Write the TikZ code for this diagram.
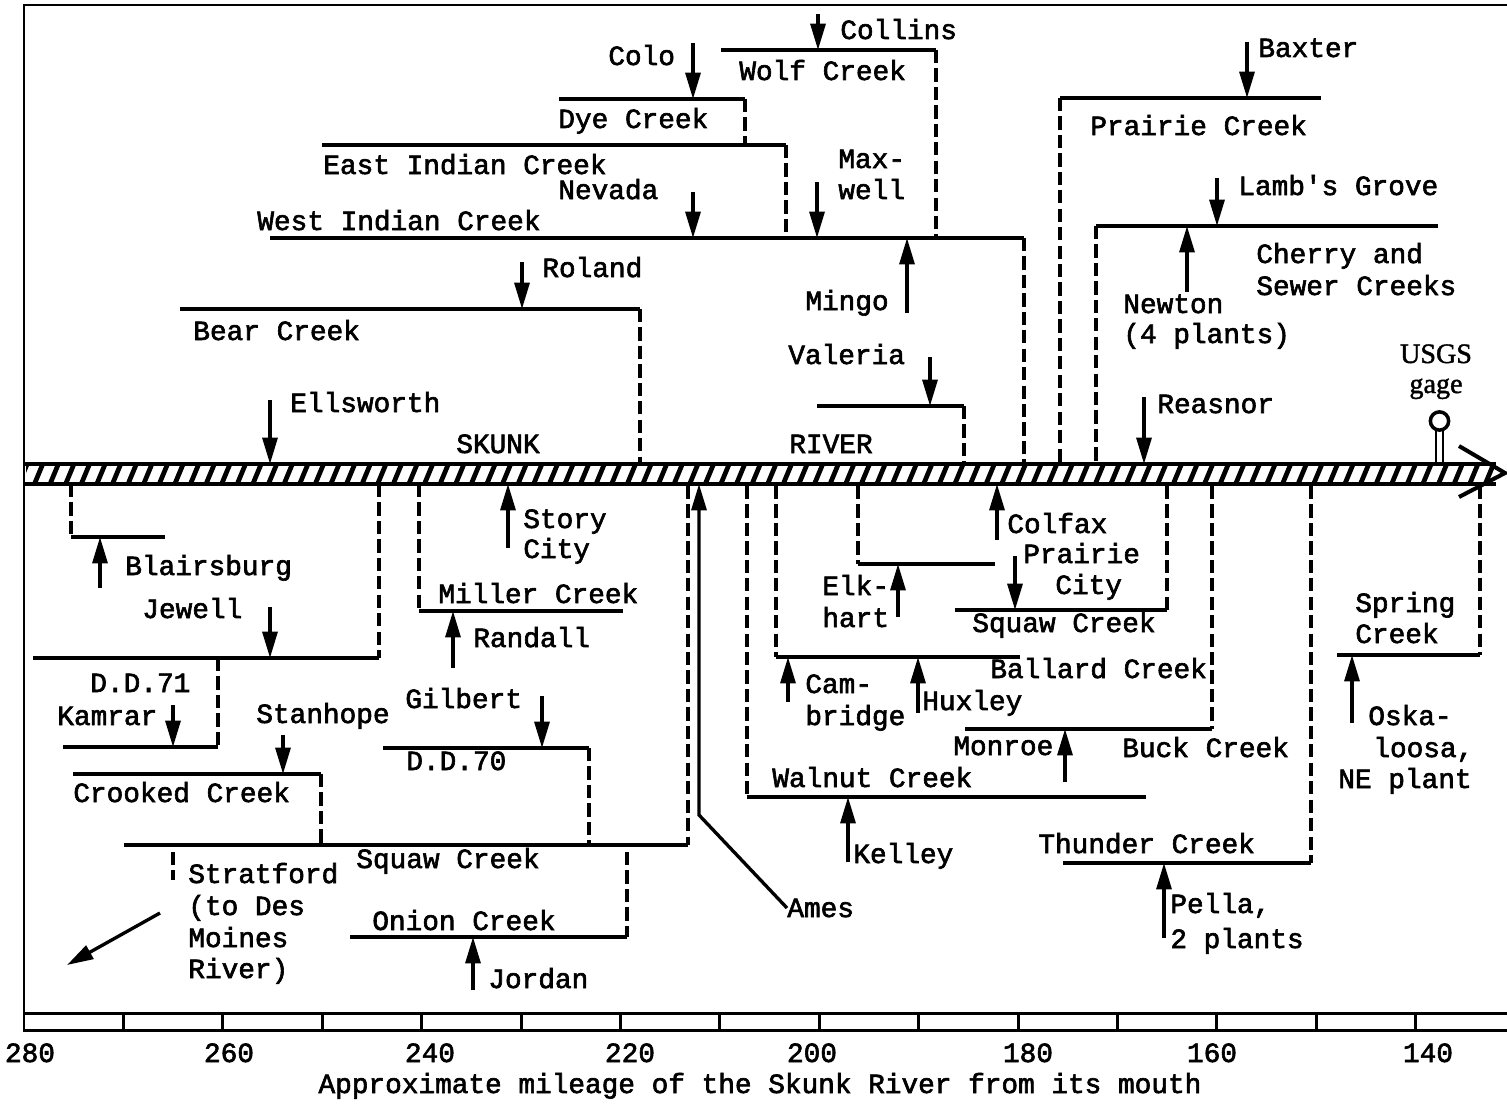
\documentclass[tikz,border=0pt]{standalone}
\usepackage{fontspec}
\setmainfont{Liberation Mono}[FakeBold=2.2]
\newfontfamily\gagefont{Liberation Serif}[FakeBold=1.5]
\usetikzlibrary{arrows.meta}

\begin{document}
\begin{tikzpicture}[x=0.02cm,y=-0.02cm,font=\fontsize{15.8}{18}\selectfont,
                    >={Triangle[length=15pt,width=8.5pt]}]
  \tikzstyle{stream}=[line width=2.3pt]
  \tikzstyle{link}=[line width=1.9pt,dash pattern=on 7.5pt off 3pt]
  \tikzstyle{town}=[line width=1.9pt,->]
  \tikzstyle{lbl}=[anchor=base west,inner sep=0pt]
  \tikzstyle{frame}=[line width=1.7pt]

  \useasboundingbox (0,0) rectangle (1507,1105);

  % frame and mileage scale
  \draw[frame] (1507,5) -- (24,5) -- (24,1030) -- (1507,1030);
  \draw[frame] (24,1013) -- (1507,1013);
  \foreach \m in {1,...,14}
    \draw[frame] (24+99.4*\m,1013) -- (24+99.4*\m,1030);
  \foreach \n/\x in {280/30,260/229,240/430,220/630,200/812,180/1028,160/1212,140/1428}
    \node[anchor=base,inner sep=0pt] (m\n) at (\x,1062) {\n};
  \node[anchor=base,inner sep=0pt] (caption) at (760,1093)
    {Approximate mileage of the Skunk River from its mouth};

  % the river
  \begin{scope}
    \clip (26,464) -- (1494,464) -- (1504,474) -- (1494,484) -- (26,484) -- cycle;
    \foreach \x in {18,33.6,...,1512}
      \draw[line width=2.7pt] (\x,486) -- (\x+10,462);
  \end{scope}
  \draw[stream] (24,464) -- (1496,464) (24,484) -- (1496,484);
  \draw[stream] (1459,446) -- (1505,473) -- (1459,497);
  \node[lbl] (skunk) at (456,453) {SKUNK};
  \node[lbl] (river) at (789,453) {RIVER};

  % gage
  \draw[line width=1.2pt] (1436,430) -- (1436,463) (1443,430) -- (1443,463);
  \draw[line width=2pt,fill=white] (1439.5,421) circle (5.2pt);
  \node[anchor=base,inner sep=0pt,font=\gagefont\fontsize{16}{18}\selectfont] (usgs) at (1436,363) {USGS};
  \node[anchor=base,inner sep=0pt,font=\gagefont\fontsize{16}{18}\selectfont] (gage) at (1436,393) {gage};

  % tributaries above the river
  \draw[stream] (721,50) -- (936,50);
  \draw[link] (936,50) -- (936,238);
  \draw[stream] (559,99) -- (745,99);
  \draw[link] (745,99) -- (745,145);
  \draw[stream] (322,145) -- (786,145);
  \draw[link] (786,145) -- (786,238);
  \draw[stream] (270,238) -- (1024,238);
  \draw[link] (1024,238) -- (1024,464);
  \draw[stream] (180,309) -- (640,309);
  \draw[link] (640,309) -- (640,464);
  \draw[stream] (817,406) -- (964,406);
  \draw[link] (964,406) -- (964,464);
  \draw[stream] (1060,98) -- (1321,98);
  \draw[link] (1060,98) -- (1060,464);
  \draw[stream] (1096,226) -- (1438,226);
  \draw[link] (1096,226) -- (1096,464);

  \node[lbl] (wolf)    at (739,80)  {Wolf Creek};
  \node[lbl] (dye)     at (558,128) {Dye Creek};
  \node[lbl] (eastind) at (323,174) {East Indian Creek};
  \node[lbl] (westind) at (257,230) {West Indian Creek};
  \node[lbl] (bear)    at (193,340) {Bear Creek};
  \node[lbl] (prairie) at (1090,135) {Prairie Creek};
  \node[lbl] (cherry)  at (1256,263) {Cherry and};
  \node[lbl] (sewer)   at (1256,295) {Sewer Creeks};

  \node[lbl] (collins)  at (840,39)  {Collins};
  \node[lbl] (colo)     at (608,65)  {Colo};
  \node[lbl] (max)      at (838,168) {Max-};
  \node[lbl] (well)     at (838,199) {well};
  \node[lbl] (nevada)   at (558,199) {Nevada};
  \node[lbl] (roland)   at (542,277) {Roland};
  \node[lbl] (mingo)    at (805,310) {Mingo};
  \node[lbl] (valeria)  at (788,364) {Valeria};
  \node[lbl] (ellsworth) at (290,412) {Ellsworth};
  \node[lbl] (baxter)   at (1258,57) {Baxter};
  \node[lbl] (lambs)    at (1238,195) {Lamb\textquotesingle s Grove};
  \node[lbl] (newton)   at (1123,313) {Newton};
  \node[lbl] (plants4)  at (1123,343) {(4 plants)};
  \node[lbl] (reasnor)  at (1157,413) {Reasnor};

  \draw[town] (818,14) -- (818,50);
  \draw[town] (693,43) -- (693,99);
  \draw[town] (693,192) -- (693,238);
  \draw[town] (817,182) -- (817,238);
  \draw[town] (907,313) -- (907,238);
  \draw[town] (522,262) -- (522,309);
  \draw[town] (930,357) -- (930,406);
  \draw[town] (270,400) -- (270,464);
  \draw[town] (1247,42) -- (1247,98);
  \draw[town] (1217,178) -- (1217,226);
  \draw[town] (1187,292) -- (1187,226);
  \draw[town] (1144,397) -- (1144,464);

  % tributaries below the river
  \draw[link] (71,484) -- (71,537);
  \draw[stream] (71,537) -- (165,537);
  \draw[link] (379,484) -- (379,658);
  \draw[stream] (33,658) -- (379,658);
  \draw[link] (218,658) -- (218,747);
  \draw[stream] (63,747) -- (218,747);
  \draw[stream] (73,774) -- (321,774);
  \draw[link] (321,774) -- (321,845);
  \draw[link] (688,486) -- (688,845);
  \draw[stream] (124,845) -- (688,845);
  \draw[stream] (383,748) -- (589,748);
  \draw[link] (589,748) -- (589,845);
  \draw[link] (173,852) -- (173,880);
  \draw[link] (627,852) -- (627,937);
  \draw[stream] (350,937) -- (627,937);
  \draw[link] (419,484) -- (419,611);
  \draw[stream] (419,611) -- (623,611);
  \draw[link] (747,486) -- (747,797);
  \draw[stream] (747,797) -- (1146,797);
  \draw[link] (776,486) -- (776,657);
  \draw[stream] (776,657) -- (1020,657);
  \draw[link] (858,486) -- (858,564);
  \draw[stream] (858,564) -- (995,564);
  \draw[link] (1167,486) -- (1167,610);
  \draw[stream] (955,610) -- (1167,610);
  \draw[link] (1212,486) -- (1212,729);
  \draw[stream] (965,729) -- (1212,729);
  \draw[link] (1311,486) -- (1311,863);
  \draw[stream] (1063,863) -- (1311,863);
  \draw[link] (1480,486) -- (1480,655);
  \draw[stream] (1337,655) -- (1480,655);

  \node[lbl] (crooked)  at (73,802)  {Crooked Creek};
  \node[lbl] (dd71)     at (90,692)  {D.D.71};
  \node[lbl] (dd70)     at (406,770) {D.D.70};
  \node[lbl] (squawlo)  at (356,868) {Squaw Creek};
  \node[lbl] (onion)    at (372,930) {Onion Creek};
  \node[lbl] (miller)   at (438,603) {Miller Creek};
  \node[lbl] (walnut)   at (772,787) {Walnut Creek};
  \node[lbl] (ballard)  at (990,678) {Ballard Creek};
  \node[lbl] (squawup)  at (972,632) {Squaw Creek};
  \node[lbl] (buck)     at (1122,757) {Buck Creek};
  \node[lbl] (thunder)  at (1038,853) {Thunder Creek};
  \node[lbl] (spring)   at (1355,612) {Spring};
  \node[lbl] (springcr) at (1355,643) {Creek};

  \node[lbl] (blairsburg) at (125,575) {Blairsburg};
  \node[lbl] (jewell)   at (142,618) {Jewell};
  \node[lbl] (kamrar)   at (57,725)  {Kamrar};
  \node[lbl] (stanhope) at (256,723) {Stanhope};
  \node[lbl] (strat1)   at (188,883) {Stratford};
  \node[lbl] (strat2)   at (188,915) {(to Des};
  \node[lbl] (strat3)   at (188,947) {Moines};
  \node[lbl] (strat4)   at (188,978) {River)};
  \node[lbl] (story)    at (523,528) {Story};
  \node[lbl] (city)     at (523,558) {City};
  \node[lbl] (randall)  at (473,647) {Randall};
  \node[lbl] (gilbert)  at (405,708) {Gilbert};
  \node[lbl] (jordan)   at (488,988) {Jordan};
  \node[lbl] (ames)     at (787,917) {Ames};
  \node[lbl] (kelley)   at (853,863) {Kelley};
  \node[lbl] (cam)      at (805,693) {Cam-};
  \node[lbl] (bridge)   at (805,725) {bridge};
  \node[lbl] (huxley)   at (922,710) {Huxley};
  \node[lbl] (elk)      at (822,595) {Elk-};
  \node[lbl] (hart)     at (822,627) {hart};
  \node[lbl] (colfax)   at (1007,533) {Colfax};
  \node[lbl] (prairie1) at (1023,563) {Prairie};
  \node[lbl] (prairie2) at (1055,594) {City};
  \node[lbl] (monroe)   at (953,755) {Monroe};
  \node[lbl] (pella)    at (1170,913) {Pella,};
  \node[lbl] (plants2)  at (1170,948) {2 plants};
  \node[lbl] (oska)     at (1368,725) {Oska-};
  \node[lbl] (loosa)    at (1373,757) {loosa,};
  \node[lbl] (neplant)  at (1338,788) {NE plant};

  \draw[town] (100,588) -- (100,537);
  \draw[town] (270,607) -- (270,658);
  \draw[town] (173,705) -- (173,747);
  \draw[town] (283,735) -- (283,774);
  \draw[town] (160,913) -- (67,965);
  \draw[town] (508,548) -- (508,484);
  \draw[town] (453,668) -- (453,611);
  \draw[town] (542,696) -- (542,748);
  \draw[town] (473,990) -- (473,937);
  \draw[town] (ames.west) -- (699,815) -- (699,484);
  \draw[town] (848,862) -- (848,797);
  \draw[town] (788,702) -- (788,657);
  \draw[town] (918,713) -- (918,657);
  \draw[town] (898,617) -- (898,564);
  \draw[town] (997,540) -- (997,484);
  \draw[town] (1015,556) -- (1015,610);
  \draw[town] (1065,782) -- (1065,729);
  \draw[town] (1164,938) -- (1164,863);
  \draw[town] (1352,723) -- (1352,655);
\end{tikzpicture}
\end{document}
